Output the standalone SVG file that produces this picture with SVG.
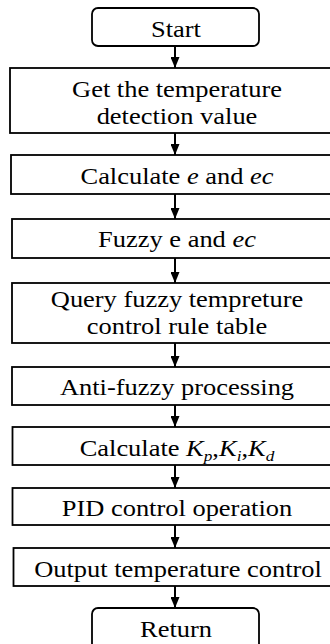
<svg xmlns="http://www.w3.org/2000/svg" width="330" height="644" viewBox="0 0 330 644">
  <defs>
    <style>
      .box { fill: #ffffff; stroke: #000000; stroke-width: 1.8; }
      .lbl { font-family: "Liberation Serif", "Times New Roman", serif; font-size: 23px; fill: #000000; text-anchor: middle; }
      .it { font-style: italic; }
      .sub { font-style: italic; font-size: 15px; }
      .conn { stroke: #000000; stroke-width: 2; fill: none; }
    </style>
    <marker id="arrow" viewBox="0 0 11 9" refX="11" refY="4.5" markerWidth="11" markerHeight="9" markerUnits="userSpaceOnUse" orient="auto">
      <path d="M0,0 L11,4.5 L0,9 z" fill="#000000"/>
    </marker>
  </defs>
  <rect width="330" height="644" fill="#ffffff"/>

  <!-- connectors -->
  <g id="connectors">
    <line class="conn" x1="175" y1="46" x2="175" y2="68" marker-end="url(#arrow)"/>
    <line class="conn" x1="175" y1="133" x2="175" y2="155" marker-end="url(#arrow)"/>
    <line class="conn" x1="175" y1="194" x2="175" y2="219" marker-end="url(#arrow)"/>
    <line class="conn" x1="175" y1="258" x2="175" y2="283" marker-end="url(#arrow)"/>
    <line class="conn" x1="175" y1="343" x2="175" y2="367" marker-end="url(#arrow)"/>
    <line class="conn" x1="175" y1="405" x2="175" y2="427" marker-end="url(#arrow)"/>
    <line class="conn" x1="175" y1="465" x2="175" y2="488" marker-end="url(#arrow)"/>
    <line class="conn" x1="175" y1="525" x2="175" y2="548" marker-end="url(#arrow)"/>
    <line class="conn" x1="175" y1="586" x2="175" y2="608" marker-end="url(#arrow)"/>
  </g>

  <g id="start">
    <rect class="box" x="92" y="8" width="167" height="38" rx="6"/>
    <text class="lbl" transform="translate(176 37) scale(1.15 1)">Start</text>
  </g>

  <g id="get-value">
    <rect class="box" x="10" y="68" width="340" height="65"/>
    <text class="lbl" transform="translate(177 96.5) scale(1.15 1)">Get the temperature</text>
    <text class="lbl" transform="translate(177 124) scale(1.15 1)">detection value</text>
  </g>

  <g id="calc-e-ec">
    <rect class="box" x="11" y="155" width="340" height="39"/>
    <text class="lbl" transform="translate(177 184) scale(1.15 1)">Calculate <tspan class="it">e</tspan> and <tspan class="it">ec</tspan></text>
  </g>

  <g id="fuzzy">
    <rect class="box" x="12" y="219" width="340" height="39"/>
    <text class="lbl" transform="translate(177 247) scale(1.15 1)">Fuzzy e and <tspan class="it">ec</tspan></text>
  </g>

  <g id="query-rules">
    <rect class="box" x="12" y="283" width="340" height="60"/>
    <text class="lbl" transform="translate(177 306.5) scale(1.15 1)">Query fuzzy tempreture</text>
    <text class="lbl" transform="translate(177 334) scale(1.15 1)">control rule table</text>
  </g>

  <g id="defuzzify">
    <rect class="box" x="12" y="367" width="340" height="38"/>
    <text class="lbl" transform="translate(177 395) scale(1.15 1)">Anti-fuzzy processing</text>
  </g>

  <g id="calc-gains">
    <rect class="box" x="12.5" y="427" width="340" height="38"/>
    <text class="lbl" transform="translate(177 455.5) scale(1.15 1)">Calculate <tspan class="it">K</tspan><tspan class="sub" dy="5">p</tspan><tspan dy="-5">,</tspan><tspan class="it">K</tspan><tspan class="sub" dy="5">i</tspan><tspan dy="-5">,</tspan><tspan class="it">K</tspan><tspan class="sub" dy="5">d</tspan></text>
  </g>

  <g id="pid-op">
    <rect class="box" x="12.5" y="488" width="340" height="37"/>
    <text class="lbl" transform="translate(177 515.5) scale(1.15 1)">PID control operation</text>
  </g>

  <g id="output">
    <rect class="box" x="13.5" y="548" width="340" height="38"/>
    <text class="lbl" transform="translate(178 577) scale(1.15 1)">Output temperature control</text>
  </g>

  <g id="return">
    <rect class="box" x="92" y="608" width="167" height="50" rx="6"/>
    <text class="lbl" transform="translate(176 636.5) scale(1.15 1)">Return</text>
  </g>
</svg>
